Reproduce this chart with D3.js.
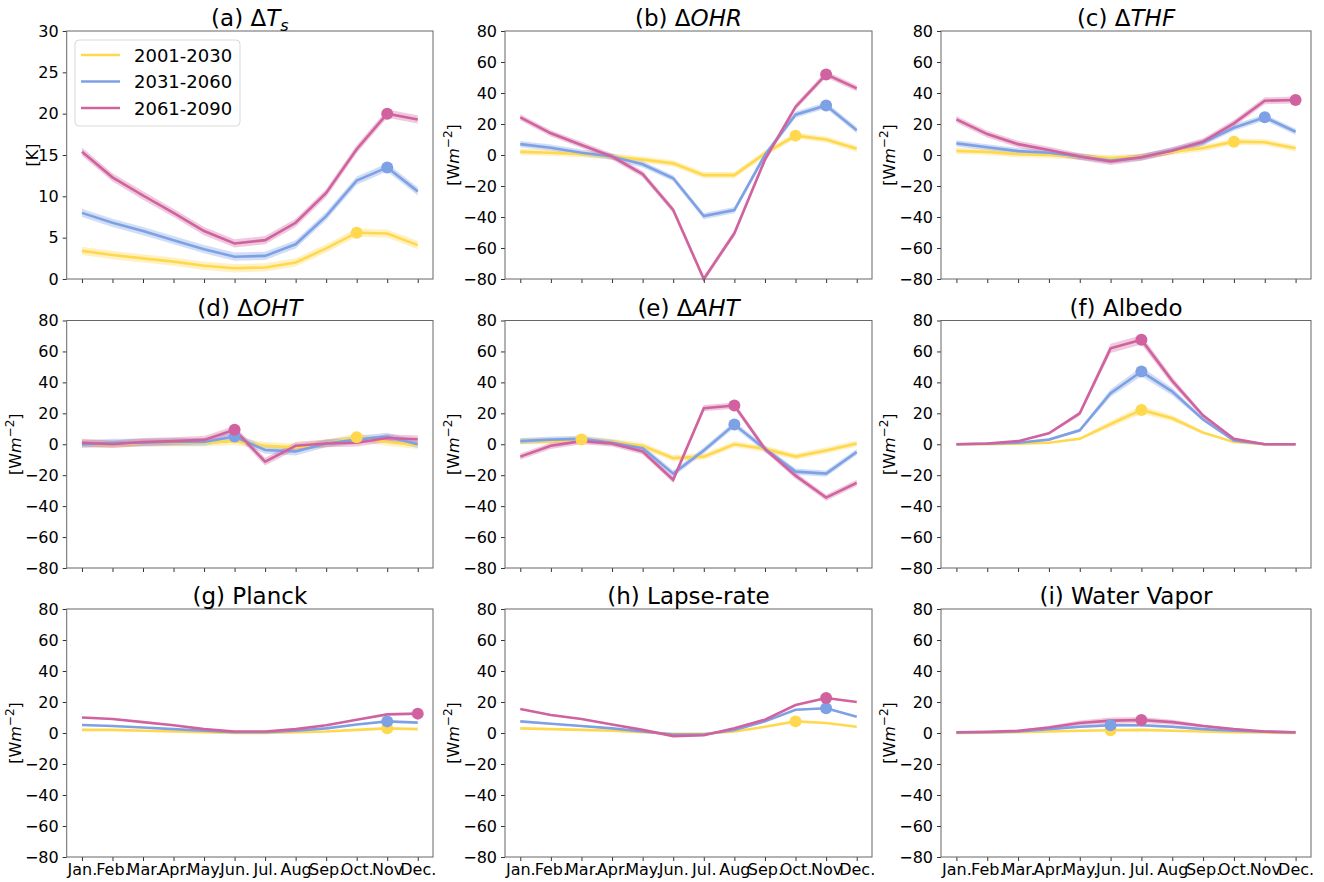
<!DOCTYPE html>
<html><head><meta charset="utf-8">
<script src="https://cdn.jsdelivr.net/npm/d3@7"></script>
<style>body{margin:0;background:#fff;} text{font-family:"DejaVu Sans",sans-serif;}</style>
</head><body><svg id="c" width="1324" height="882"></svg>
<script>
const months = ["Jan.","Feb.","Mar.","Apr.","May.","Jun.","Jul.","Aug","Sep.","Oct.","Nov","Dec."];
const periods = ["2001-2030","2031-2060","2061-2090"];
const colors = ["#FFD84E","#7EA1E5","#D0639F"];

// (a) dTs
const tsY = [3.4,2.9,2.5,2.1,1.6,1.3,1.4,2.0,3.7,5.6,5.5,4.1];
const tsB = [8.0,6.8,5.8,4.7,3.6,2.7,2.8,4.2,7.6,11.9,13.5,10.6];
const tsP = [15.4,12.3,10.1,8.0,5.8,4.3,4.7,6.8,10.4,15.7,20.0,19.3];
const tsMark = [9,10,10];
const tsSpread = [0.5,0.5,0.5];
// (b) dOHR
const ohrY = [2,1.5,0.5,-1,-3,-5.4,-13,-13,1,12.5,10,4];
const ohrB = [7,4.7,1.5,-1,-6,-15,-39.4,-35.5,0,26,32,16];
const ohrP = [24.3,14,6.5,-1,-12.3,-35.5,-80,-50.5,-3,31,52,43];
const ohrMark = [9,10,10];
const ohrSpread = [2,2,2];
// (c) dTHF
const thfY = [2.6,2,0.5,0,-1,-2,-1,2,4.5,8.6,8.2,4.3];
const thfB = [7.5,5,2.5,1.5,-1,-3.5,-1.5,3,8,17.6,24.3,15];
const thfP = [23,13.5,7,3.2,-1,-4.2,-1.5,2.8,8.6,20.4,35,35.5];
const thfMark = [9,10,11];
const thfSpread = [2,2,2.2];
// (d) dOHT
const ohtY = [0.5,0,1,1,1,2,-1,-2,0.5,4.5,1.5,-0.5];
const ohtB = [0,1,1,1.5,1.5,5,-3.7,-4.7,0.5,3,5,0];
const ohtP = [1,0,1.5,2,2.8,9.3,-11.2,-1,0.5,1,4,3.2];
const ohtMark = [9,5,5];
const ohtSpread = [2.5,2.5,2.5];
// (e) dAHT
const ahtY = [2,2,3,1.5,-1,-9,-8,0,-3,-8,-4,0.5];
const ahtB = [2,3,3.5,1,-2.5,-19,-4,12.7,-3,-17.7,-19,-5];
const ahtP = [-8,-1,2,0.5,-4.7,-23,23.3,25,-3,-20.3,-34.5,-25];
const ahtMark = [2,7,7];
const ahtSpread = [2,2,2];
// (f) Albedo
const albY = [0,0,0.3,1,3.5,13,22.2,16.8,7.5,1.5,0,0];
const albB = [0,0.3,1,3,9,33,47,34,16,2.5,0,0];
const albP = [0,0.5,2,7.1,20,62,67.5,41,18.5,3.5,0,0];
const albMark = [6,6,6];
const albSpreadY = [0,0,0.1,0.3,0.8,2,2.5,2,1,0.3,0,0];
const albSpreadB = [0,0,0.2,0.5,1.2,2.5,3,2.5,1.2,0.4,0,0];
const albSpreadP = [0,0.1,0.3,0.8,1.5,3,3,2.5,1.5,0.5,0,0];
// (g) Planck
const plY = [2,2,1.5,1,0.5,0,0,0.5,1,2,3,2.5];
const plB = [5.2,4.5,3.5,2.5,1.5,0.5,0.5,1.5,3,5.5,7.5,6.7];
const plP = [10,9,7,5,2.5,1,1,2.5,5,8.5,12,12.5];
const plMark = [10,10,11];
const plSpread = [0.3,0.3,0.4];
// (h) Lapse-rate
const lrY = [3,2.5,2,1.5,0.5,-0.5,-0.5,1,4,7.5,6.5,4];
const lrB = [7.5,6,4.5,3,1,-1,-1,2,7.5,15,16,10.5];
const lrP = [15.5,11.6,9,5.5,2,-2,-1.5,3,8.6,18,22.6,20];
const lrMark = [9,10,10];
const lrSpread = [0.4,0.5,0.5];
// (i) Water Vapor
const wvY = [0,0.2,0.5,1,1.5,1.8,2,1.5,1,0.5,0.3,0];
const wvB = [0.3,0.5,1,2.5,4,5,5,4,2.5,1.5,0.8,0.3];
const wvP = [0.5,0.8,1.5,3.5,6.5,8,8.4,7,4.5,2.5,1,0.5];
const wvMark = [5,5,6];
const wvSpreadY = [0,0,0.1,0.2,0.3,0.4,0.4,0.3,0.2,0.1,0,0];
const wvSpreadB = [0.1,0.1,0.2,0.5,0.8,1,1,0.8,0.5,0.3,0.1,0.1];
const wvSpreadP = [0.2,0.3,0.5,1,1.5,2,2,1.6,1,0.5,0.3,0.2];

const panels = [
  {title:[["(a) Δ",""],["T","i"],["s","sub"]], unit:"K", dom:[0,30], ticks:[0,5,10,15,20,25,30], s:[tsY,tsB,tsP], m:tsMark, sp:tsSpread, legend:true},
  {title:[["(b) Δ",""],["OHR","i"]], unit:"W", dom:[-80,80], s:[ohrY,ohrB,ohrP], m:ohrMark, sp:ohrSpread},
  {title:[["(c) Δ",""],["THF","i"]], unit:"W", dom:[-80,80], s:[thfY,thfB,thfP], m:thfMark, sp:thfSpread},
  {title:[["(d) Δ",""],["OHT","i"]], unit:"W", dom:[-80,80], s:[ohtY,ohtB,ohtP], m:ohtMark, sp:ohtSpread},
  {title:[["(e) Δ",""],["AHT","i"]], unit:"W", dom:[-80,80], s:[ahtY,ahtB,ahtP], m:ahtMark, sp:ahtSpread},
  {title:[["(f) Albedo",""]], unit:"W", dom:[-80,80], s:[albY,albB,albP], m:albMark, sp:[albSpreadY,albSpreadB,albSpreadP]},
  {title:[["(g) Planck",""]], unit:"W", dom:[-80,80], s:[plY,plB,plP], m:plMark, sp:plSpread},
  {title:[["(h) Lapse-rate",""]], unit:"W", dom:[-80,80], s:[lrY,lrB,lrP], m:lrMark, sp:lrSpread},
  {title:[["(i) Water Vapor",""]], unit:"W", dom:[-80,80], s:[wvY,wvB,wvP], m:wvMark, sp:[wvSpreadY,wvSpreadB,wvSpreadP]}
];

const colL = [66.7,505,941], colR = [433,872,1311];
const rowT = [31,320.5,609], rowB = [279,568,857];
const svg = d3.select("#c");

panels.forEach((p,i)=>{
  const r = Math.floor(i/3), c = i%3;
  const x = d3.scaleLinear().domain([-0.5,11.5]).range([colL[c],colR[c]]);
  const y = d3.scaleLinear().domain(p.dom).range([rowB[r],rowT[r]]);
  const g = svg.append("g");
  const ticks = p.ticks || [-80,-60,-40,-20,0,20,40,60,80];

  const clipId = "clip"+i;
  svg.append("clipPath").attr("id",clipId).append("rect")
    .attr("x",colL[c]).attr("y",rowT[r]-2).attr("width",colR[c]-colL[c]).attr("height",rowB[r]-rowT[r]+4);
  const pg = g.append("g").attr("clip-path",`url(#${clipId})`);
  p.s.forEach((vals,k)=>{
    const spr = j => Array.isArray(p.sp[k]) ? p.sp[k][j] : p.sp[k];
    const area = d3.area().x((d,j)=>x(j)).y0((d,j)=>y(d-spr(j))).y1((d,j)=>y(d+spr(j)));
    pg.append("path").attr("d",area(vals)).attr("fill",colors[k]).attr("fill-opacity",0.35);
  });
  p.s.forEach((vals,k)=>{
    const line = d3.line().x((d,j)=>x(j)).y(d=>y(d));
    pg.append("path").attr("d",line(vals)).attr("fill","none").attr("stroke",colors[k]).attr("stroke-width",2.6);
  });
  p.s.forEach((vals,k)=>{
    g.append("circle").attr("cx",x(p.m[k])).attr("cy",y(vals[p.m[k]])).attr("r",6).attr("fill",colors[k]);
  });

  const ya = d3.axisLeft(y).tickValues(ticks).tickSize(4).tickPadding(4).tickFormat(d3.format("d"));
  const yg = g.append("g").attr("transform",`translate(${colL[c]},0)`).call(ya);
  yg.select(".domain").remove();
  yg.selectAll("text").attr("font-size",16).attr("fill","#000");
  yg.selectAll("line").attr("stroke","#333");
  const xa = d3.axisBottom(x).tickValues(d3.range(12)).tickSize(4).tickPadding(3)
    .tickFormat(j => r===2 ? months[j] : "");
  const xg = g.append("g").attr("transform",`translate(0,${rowB[r]})`).call(xa);
  xg.select(".domain").remove();
  xg.selectAll("text").attr("font-size",16).attr("fill","#000");
  xg.selectAll("line").attr("stroke","#333");
  g.append("rect").attr("x",colL[c]).attr("y",rowT[r]).attr("width",colR[c]-colL[c]).attr("height",rowB[r]-rowT[r])
    .attr("fill","none").attr("stroke","#666").attr("stroke-width",1);

  const t = g.append("text").attr("x",(colL[c]+colR[c])/2).attr("y",rowT[r]-5).attr("text-anchor","middle").attr("font-size",23);
  p.title.forEach(([s,st])=>{
    const ts = t.append("tspan").text(s);
    if(st==="i") ts.attr("font-style","italic");
    if(st==="sub") ts.attr("font-style","italic").attr("font-size",16).attr("dy",5);
  });

  const ly = (rowT[r]+rowB[r])/2;
  const lx = p.unit==="K" ? colL[c]-29 : colL[c]-46;
  const yl = g.append("text").attr("transform",`translate(${lx},${ly}) rotate(-90)`).attr("text-anchor","middle").attr("font-size",16);
  if(p.unit==="K"){ yl.text("[K]"); }
  else {
    yl.append("tspan").text("[W");
    yl.append("tspan").attr("font-style","italic").text("m");
    yl.append("tspan").attr("font-size",12).attr("dy",-7).text("−2");
    yl.append("tspan").attr("dy",7).text("]");
  }

  if(p.legend){
    const lg = g.append("g");
    lg.append("rect").attr("x",75).attr("y",40).attr("width",165).attr("height",86).attr("rx",4)
      .attr("fill","#fff").attr("fill-opacity",0.8).attr("stroke","#d9d9d9");
    periods.forEach((name,k)=>{
      const yy = 55 + k*26.5;
      lg.append("line").attr("x1",81).attr("x2",120).attr("y1",yy).attr("y2",yy).attr("stroke",colors[k]).attr("stroke-width",2.6);
      lg.append("text").attr("x",134).attr("y",yy+6.5).attr("font-size",18).text(name);
    });
  }
});
</script></body></html>
